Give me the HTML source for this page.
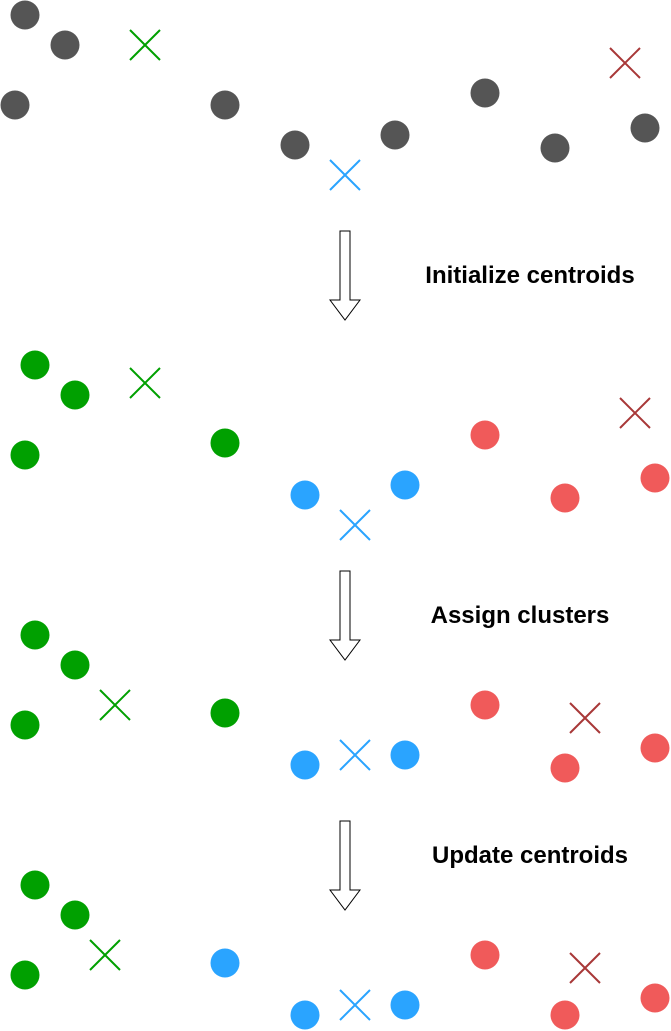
<!DOCTYPE html>
<html><head><meta charset="utf-8"><style>html,body{margin:0;padding:0;background:#fff}svg{display:block}</style></head>
<body>
<svg width="671" height="1031" viewBox="0 0 671 1031" xmlns="http://www.w3.org/2000/svg">
<defs>
<g id="arr"><path d="M340,0 L350,0 L350,69 L360,69 L345,89 L330,69 L340,69 Z" fill="#fff" stroke="#000" stroke-width="1"/></g>
</defs>
<g fill="#555">
<circle cx="25" cy="15" r="14.5"/><circle cx="65" cy="45" r="14.5"/><circle cx="15" cy="105" r="14.5"/>
<circle cx="225" cy="105" r="14.5"/><circle cx="295" cy="145" r="14.5"/><circle cx="395" cy="135" r="14.5"/>
<circle cx="485" cy="93" r="14.5"/><circle cx="555" cy="148" r="14.5"/><circle cx="645" cy="128" r="14.5"/>
</g>
<g fill="#00A000">
<circle cx="35" cy="365" r="14.5"/><circle cx="75" cy="395" r="14.5"/><circle cx="25" cy="455" r="14.5"/><circle cx="225" cy="443" r="14.5"/>
<circle cx="35" cy="635" r="14.5"/><circle cx="75" cy="665" r="14.5"/><circle cx="25" cy="725" r="14.5"/><circle cx="225" cy="713" r="14.5"/>
<circle cx="35" cy="885" r="14.5"/><circle cx="75" cy="915" r="14.5"/><circle cx="25" cy="975" r="14.5"/>
</g>
<g fill="#2AA4FF">
<circle cx="305" cy="495" r="14.5"/><circle cx="405" cy="485" r="14.5"/>
<circle cx="305" cy="765" r="14.5"/><circle cx="405" cy="755" r="14.5"/>
<circle cx="225" cy="963" r="14.5"/><circle cx="305" cy="1015" r="14.5"/><circle cx="405" cy="1005" r="14.5"/>
</g>
<g fill="#F05A5A">
<circle cx="485" cy="435" r="14.5"/><circle cx="565" cy="498" r="14.5"/><circle cx="655" cy="478" r="14.5"/>
<circle cx="485" cy="705" r="14.5"/><circle cx="565" cy="768" r="14.5"/><circle cx="655" cy="748" r="14.5"/>
<circle cx="485" cy="955" r="14.5"/><circle cx="565" cy="1015" r="14.5"/><circle cx="655" cy="998" r="14.5"/>
</g>
<g stroke-width="2" fill="none">
<path stroke="#00A000" d="M130,30l30,30M160,30l-30,30 M130,368l30,30M160,368l-30,30 M100,690l30,30M130,690l-30,30 M90,940l30,30M120,940l-30,30"/>
<path stroke="#2AA4FF" d="M330,160l30,30M360,160l-30,30 M340,510l30,30M370,510l-30,30 M340,740l30,30M370,740l-30,30 M340,990l30,30M370,990l-30,30"/>
<path stroke="#A83838" d="M610,48l30,30M640,48l-30,30 M620,398l30,30M650,398l-30,30 M570,703l30,30M600,703l-30,30 M570,953l30,30M600,953l-30,30"/>
</g>
<use href="#arr" transform="translate(0,231)"/>
<use href="#arr" transform="translate(0,571)"/>
<use href="#arr" transform="translate(0,821)"/>
<g font-family="Liberation Sans, sans-serif" font-weight="bold" font-size="24" text-anchor="middle" fill="#000">
<text x="530" y="283">Initialize centroids</text>
<text x="520" y="623">Assign clusters</text>
<text x="530" y="863">Update centroids</text>
</g>
</svg>
</body></html>
